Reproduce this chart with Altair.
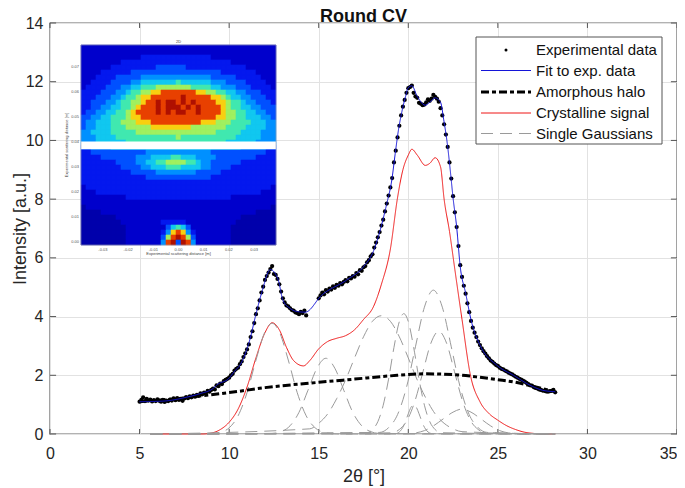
import altair as alt
import pandas as pd

exp_x = [5.0,5.1,5.2,5.3,5.4,5.5,5.6,5.7,5.8,5.9,6.0,6.1,6.2,6.3,6.4,6.5,6.6,6.7,6.8,6.9,
 7.0,7.1,7.2,7.3,7.4,7.5,7.6,7.7,7.8,7.9,8.0,8.1,8.2,8.3,8.4,8.5,8.6,8.7,8.8,8.9,
 9.0,9.1,9.2,9.3,9.4,9.5,9.6,9.7,9.8,9.9,10.0,10.1,10.2,10.3,10.4,10.5,10.6,10.7,10.8,10.9,
 11.0,11.1,11.2,11.3,11.4,11.5,11.6,11.7,11.8,11.9,12.0,12.1,12.2,12.3,12.4,12.5,12.6,12.7,12.8,12.9,
 13.0,13.1,13.2,13.3,13.4,13.5,13.6,13.7,13.8,13.9,14.0,14.1,14.2,14.3,
 15.0,15.1,15.2,15.3,15.4,15.5,15.6,15.7,15.8,15.9,16.0,16.1,16.2,16.3,16.4,16.5,16.6,16.7,16.8,16.9,
 17.0,17.1,17.2,17.3,17.4,17.5,17.6,17.7,17.8,17.9,18.0,18.1,18.2,18.3,18.4,18.5,18.6,18.7,18.8,18.9,
 19.0,19.1,19.2,19.3,19.4,19.5,19.6,19.7,19.8,19.9,20.0,20.1,20.2,20.3,20.4,20.5,20.6,20.7,20.8,20.9,
 21.0,21.1,21.2,21.3,21.4,21.5,21.6,21.7,21.8,21.9,22.0,22.1,22.2,22.3,22.4,22.5,22.6,22.7,22.8,22.9,
 23.0,23.1,23.2,23.3,23.4,23.5,23.6,23.7,23.8,23.9,24.0,24.1,24.2,24.3,24.4,24.5,24.6,24.7,24.8,24.9,
 25.0,25.1,25.2,25.3,25.4,25.5,25.6,25.7,25.8,25.9,26.0,26.1,26.2,26.3,26.4,26.5,26.6,26.7,26.8,26.9,
 27.0,27.1,27.2,27.3,27.4,27.5,27.6,27.7,27.8,27.9,28.0,28.1,28.2]
exp_y = [1.10,1.16,1.25,1.12,1.20,1.14,1.17,1.11,1.15,1.12,1.18,1.13,1.10,1.16,1.09,1.14,1.12,1.17,1.14,1.21,
 1.15,1.22,1.16,1.19,1.13,1.21,1.26,1.22,1.28,1.25,1.31,1.27,1.33,1.30,1.38,1.35,1.41,1.38,1.47,1.44,
 1.50,1.55,1.52,1.66,1.63,1.72,1.70,1.80,1.84,1.88,1.92,2.00,2.05,2.16,2.22,2.26,2.38,2.47,2.62,2.75,
 2.88,3.05,3.30,3.50,3.78,4.08,4.28,4.55,4.82,5.02,5.25,5.38,5.50,5.62,5.72,5.45,5.42,5.28,5.10,4.85,
 4.62,4.48,4.38,4.35,4.28,4.22,4.20,4.14,4.12,4.08,4.16,4.12,4.20,4.04,
 4.62,4.72,4.82,4.76,4.90,4.85,4.95,4.92,5.03,4.98,5.08,5.05,5.14,5.10,5.18,5.24,5.20,5.32,5.30,5.38,
 5.36,5.48,5.44,5.58,5.56,5.68,5.72,5.85,5.92,6.05,6.12,6.35,6.52,6.70,6.88,7.10,7.30,7.58,7.85,8.12,
 8.40,8.72,9.25,9.65,10.1,10.5,10.85,11.15,11.38,11.62,11.78,11.82,11.87,11.62,11.5,11.45,11.28,11.25,11.2,11.22,
 11.3,11.4,11.35,11.42,11.55,11.48,11.42,11.32,11.1,10.85,10.55,10.2,9.78,9.25,8.7,8.1,7.55,7.05,6.4,5.75,
 5.35,5.05,4.78,4.45,4.15,3.85,3.62,3.45,3.3,3.15,3.03,2.92,2.82,2.74,2.65,2.58,2.5,2.46,2.4,2.35,
 2.32,2.26,2.22,2.2,2.16,2.13,2.09,2.06,2.03,1.99,1.95,1.92,1.88,1.85,1.82,1.78,1.74,1.70,1.66,1.65,
 1.60,1.57,1.55,1.52,1.50,1.48,1.47,1.45,1.44,1.46,1.47,1.50,1.42]

fit_x = [5,6.3,7.6,8.4,9.1,9.33,10,10.25,10.7,11.18,11.46,11.83,12.3,12.74,13,13.4,13.8,14.25,15.17,16.57,17.5,18.07,18.5,18.8,19.08,19.27,19.45,19.65,19.85,20,20.2,20.5,20.95,21.2,21.5,21.8,21.98,22.2,22.34,22.5,22.7,22.9,23.2,23.55,24,24.95,25.87,26.8,27.5,28.2]
fit_y = [1.1,1.12,1.25,1.38,1.55,1.68,1.9,2.1,2.45,3.27,3.99,4.84,5.6,5.25,4.56,4.28,4.17,4.15,4.73,5.25,5.7,6.25,7.1,7.85,8.65,9.55,10.35,11.0,11.5,11.8,11.86,11.5,11.2,11.3,11.45,11.3,10.7,9.78,9.0,8.04,7.05,5.7,4.8,3.77,3.03,2.34,2.0,1.66,1.49,1.44]

halo_x = [5,6,7,8,9,10,12,15,17,19,21,23,24,25,26,27,28.2]
halo_y = [1.1,1.15,1.2,1.27,1.34,1.41,1.58,1.76,1.87,1.98,2.05,2.0,1.93,1.85,1.76,1.62,1.44]

red_x = [5.6,8.5,9,9.5,10,10.5,11,11.5,12,12.4,12.8,13.2,13.6,14.15,14.5,15,15.5,16,16.5,17,17.5,18.05,18.5,19,19.4,19.7,20,20.2,20.5,20.95,21.2,21.5,21.8,22,22.3,22.6,23,23.47,24,24.5,25,25.5,26,26.5,27,27.5,28.2]
red_y = [0,0,0.03,0.15,0.4,0.85,1.6,2.6,3.45,3.79,3.55,2.95,2.5,2.32,2.5,2.9,3.15,3.26,3.35,3.55,3.9,4.33,5.1,6.3,8.05,9.0,9.5,9.7,9.5,9.15,9.22,9.41,9.1,8.0,6.9,5.6,3.9,2.0,1.1,0.7,0.47,0.28,0.15,0.06,0.02,0,0]

g1_x = [5.6,9,9.5,10,10.5,11,11.5,12,12.4,12.8,13.3,13.8,14.3,14.8,15.4,16,28.2]
g1_y = [0,0.01,0.056,0.21,0.62,1.41,2.52,3.48,3.77,3.48,2.52,1.41,0.62,0.21,0.04,0,0]
g2_x = [5.6,12.4,12.9,13.4,13.9,14.4,14.9,15.4,15.9,16.4,16.9,17.4,17.9,18.4,28.2]
g2_y = [0,0.02,0.08,0.28,0.74,1.49,2.24,2.58,2.24,1.49,0.74,0.28,0.08,0.02,0]
g3_x = [5.6,14.5,15,15.5,16,16.5,17,17.5,18,18.5,19,19.5,20,20.5,21,21.5,22,22.5,23,28.2]
g3_y = [0,0.176,0.365,0.685,1.2,1.84,2.59,3.31,3.84,4.03,3.84,3.31,2.59,1.84,1.2,0.685,0.365,0.176,0.08,0]
g4_x = [5.6,17.7,18,18.3,18.6,18.9,19.2,19.5,19.75,20,20.3,20.6,20.9,21.2,21.5,21.8,28.2]
g4_y = [0,0.045,0.15,0.42,0.98,1.87,2.95,3.83,4.1,3.83,2.95,1.87,0.98,0.42,0.15,0.045,0]
g5_x = [5.6,18.4,18.9,19.4,19.9,20.4,20.9,21.4,21.9,22.4,22.9,23.4,23.9,24.4,28.2]
g5_y = [0,0.054,0.215,0.66,1.59,2.97,4.32,4.9,4.32,2.97,1.59,0.66,0.215,0.054,0]
g6_x = [5.6,19.06,19.5,19.94,20.38,20.82,21.26,21.7,22.14,22.58,23.02,23.46,23.9,24.34,28.2]
g6_y = [0,0.039,0.154,0.474,1.14,2.12,3.09,3.5,3.09,2.12,1.14,0.474,0.154,0.039,0]
g7_x = [5.6,19.25,19.5,19.75,20,20.15,20.3,20.45,20.6,20.85,21.1,21.35,28.2]
g7_y = [0,0.01,0.07,0.29,0.69,0.91,1.0,0.91,0.69,0.29,0.07,0.01,0]
g8_x = [5.6,19.85,20.4,20.9,21.4,21.95,22.5,23,23.5,24.05,24.6,25.1,25.6,26.15,28.2]
g8_y = [0,0.009,0.037,0.115,0.275,0.515,0.745,0.85,0.745,0.515,0.275,0.115,0.037,0.009,0]

series_names = ["Experimental data","Fit to exp. data","Amorphous halo","Crystalline signal","Single Gaussians"]
series_colors = ["#000000","#1414d8","#000000","#ee1515","#9a9a9a"]
series_dash = [[1,0],[1,0],[8,3,4,3],[1,0],[12,7]]
series_width = [3,1,3,1,1]

x_ticks = [0,5,10,15,20,25,30,35]
y_ticks = [0,2,4,6,8,10,12,14]

inset_rows = """
1111111111111 1111111111111 1111111111111
1111111111111 1111111111111 1111111111111
1111111111112 2222222222222 1111111111111
1111111122222 2222222222222 2222111111111
1111112222222 2233333322222 2222222111111
1111222222333 3333333333333 3322222221111
1112222333334 4444444444444 3333322222111
1122223333445 5555556555555 4443333222211
1222233344556 6677777776666 5544433322221
2222333445667 7889999999887 7665544333222
2223334456678 8999999a99999 8876554433322
2233344566778 99a9aa9a9a999 9887665443332
2233445566789 99a9aaa9a9a99 9987665544333
2334455667899 99a9a9aa99a99 9987766554433
3344556667889 9999999999999 9887766555443
3445556677788 8999999999988 8777666655544
3445556667777 7888888887777 7776666555544
4455556666677 7777777777777 7666665555444
4445555666666 6666667666666 6666655555444
4445555556666 6666666666666 6665555554444
3344445555555 5555555555555 5555554444433
2233333333333 4444444444444 3333333333322
2222333333344 4555566555444 4333333332222
2222222333344 5566777766544 3333332222222
2222222233334 4555666555544 3333222222222
2222222222333 3344444444333 3322222222222
2222222222222 3333333333333 2222222222222
2222222222222 2222222222222 2222222222222
1222222222222 2222222222222 2222222222221
1112222222222 2222222222222 2222222222111
1111111112222 2222222222222 2222111111111
1111111111111 1111111111111 1111111111111
0111111111111 1111111111111 1111111111110
0000111111111 1111111111111 1111111110000
0000000111111 1111111111111 1111110000000
0000000011111 1112222211111 1111100000000
0000000001111 1111356531111 1111000000000
0000000001111 1112489842111 1111000000000
0000000001111 111379a973111 1111000000000
0000000001111 11149a3a94111 1111000000000
""".split("\n")
level_colors = {"0":"#0000ac","1":"#0000cc","2":"#0418ee","3":"#0050ff","4":"#0090ff","5":"#10c8f0",
                "6":"#40e8b0","7":"#a0f060","8":"#f8d010","9":"#e84000","a":"#b01000"}
inset_x_dom = [-0.0387,0.0387]
inset_y_dom = [-0.001,0.0789]
inset_x_labels = [-0.03,-0.02,-0.01,0.0,0.01,0.02,0.03]
inset_y_labels = [0.0,0.01,0.02,0.03,0.04,0.05,0.06,0.07]

rows = []
def add(xs, ys, name, group):
    for a, b in zip(xs, ys):
        rows.append({"x":a,"y":b,"series":name,"group":group})
add(red_x,red_y,series_names[3],"r")
for i,(a,b) in enumerate([(g1_x,g1_y),(g2_x,g2_y),(g3_x,g3_y),(g4_x,g4_y),(g5_x,g5_y),(g6_x,g6_y),(g7_x,g7_y),(g8_x,g8_y)]):
    add(a,b,series_names[4],"g%d"%i)
add(halo_x,halo_y,series_names[2],"h")
add(fit_x,fit_y,series_names[1],"f")
lines_df = pd.DataFrame(rows)
exp_df = pd.DataFrame({"x":exp_x,"y":exp_y})

cells = []
clean = [r.replace(" ","") for r in inset_rows if r.strip()]
n_r, n_c = len(clean), len(clean[0])
dx = (inset_x_dom[1]-inset_x_dom[0])/n_c
dy = (inset_y_dom[1]-inset_y_dom[0])/n_r
for r,row in enumerate(clean):
    for c,ch in enumerate(row):
        cells.append({"x0":inset_x_dom[0]+c*dx,"x1":inset_x_dom[0]+(c+1)*dx,
                      "y1":inset_y_dom[1]-r*dy,"y0":inset_y_dom[1]-(r+1)*dy,"hex":level_colors[ch]})
cells_df = pd.DataFrame(cells)

FONT = "Liberation Sans"
W, H = 627, 411

xs = alt.Scale(domain=[0,35], nice=False)
ys = alt.Scale(domain=[0,14], nice=False)
xax = alt.Axis(values=x_ticks, title="2θ [°]", grid=True, domain=False, ticks=False,
            labelFontSize=16, labelFont=FONT, labelColor="#262626", labelPadding=11,
            labelAlign=alt.expr("datum.value==35?'right':'center'"),
            titleFont=FONT, titleFontSize=18, titleFontWeight="normal", titleColor="#262626", titlePadding=6,
            gridColor="#e2e2e2", gridWidth=1)
yax = alt.Axis(values=y_ticks, title="Intensity [a.u.]", grid=True, domain=False, ticks=False,
            labelFontSize=16, labelFont=FONT, labelColor="#262626", labelPadding=7,
            titleFont=FONT, titleFontSize=18, titleFontWeight="normal", titleColor="#262626", titlePadding=-4,
            gridColor="#e2e2e2", gridWidth=1)

tick_color = "#555555"
tx = pd.DataFrame({"t":x_ticks})
ty = pd.DataFrame({"t":y_ticks})
def tick_x(a,b):
    return alt.Chart(tx).mark_rule(color=tick_color, strokeWidth=1).encode(
        x=alt.X("t:Q",scale=xs,axis=xax), y=alt.Y(datum=a,scale=ys,axis=yax), y2=alt.Y2(datum=b))
def tick_y(a,b):
    return alt.Chart(ty).mark_rule(color=tick_color, strokeWidth=1).encode(
        y=alt.Y("t:Q",scale=ys,axis=yax), x=alt.X(datum=a,scale=xs,axis=xax), x2=alt.X2(datum=b))
t1, t2, t3, t4 = tick_x(0,0.17), tick_x(14,13.83), tick_y(0,0.34), tick_y(35,34.66)

points = alt.Chart(exp_df).mark_circle(size=18, color="#000000", opacity=1).encode(
    x=alt.X("x:Q",scale=xs,axis=xax), y=alt.Y("y:Q",scale=ys,axis=yax))

lines = alt.Chart(lines_df).mark_line(interpolate="monotone", strokeCap="butt").encode(
    x=alt.X("x:Q",scale=xs,axis=xax), y=alt.Y("y:Q",scale=ys,axis=yax), detail="group:N",
    color=alt.Color("series:N", scale=alt.Scale(domain=series_names, range=series_colors), legend=None),
    strokeDash=alt.StrokeDash("series:N", scale=alt.Scale(domain=series_names, range=series_dash), legend=None),
    strokeWidth=alt.StrokeWidth("series:N", scale=alt.Scale(type="ordinal", domain=series_names, range=series_width), legend=None),
)

leg_df = pd.DataFrame({"s":["legend"]})
leg_box = alt.Chart(leg_df).mark_rect(fill="#ffffff", stroke="#555555", strokeWidth=1).encode(
    x=alt.value(426), x2=alt.value(612), y=alt.value(14), y2=alt.value(121))
leg_layers = [leg_box]
leg_rows = [27, 47.5, 69, 90, 110.5]
leg_layers.append(alt.Chart(leg_df).mark_circle(size=9, color="#000000", opacity=1).encode(x=alt.value(456), y=alt.value(leg_rows[0])))
for name, color, dash, width, yy in zip(series_names, series_colors, series_dash, series_width, leg_rows):
    one = pd.DataFrame({"s":[name]})
    if name != series_names[0]:
        leg_layers.append(alt.Chart(one).mark_rule(color=color, strokeDash=dash, strokeWidth=width).encode(
            x=alt.value(431), x2=alt.value(481), y=alt.value(yy)))
    leg_layers.append(alt.Chart(one).mark_text(font=FONT, fontSize=15, color="#111111", align="left", baseline="middle").encode(
        x=alt.value(486), y=alt.value(yy), text="s:N"))

ix = alt.Scale(domain=inset_x_dom, range=[31,226], nice=False, zero=False)
iy = alt.Scale(domain=inset_y_dom, range=[222,22], nice=False, zero=False)
heat = alt.Chart(cells_df).mark_rect(strokeWidth=0.6).encode(
    x=alt.X("x0:Q", scale=ix, axis=None), x2="x1:Q",
    y=alt.Y("y0:Q", scale=iy, axis=None), y2="y1:Q",
    fill=alt.Fill("hex:N", scale=None), stroke=alt.Stroke("hex:N", scale=None),
)
band = alt.Chart(pd.DataFrame({"a":[inset_x_dom[0]],"b":[inset_x_dom[1]],"c":[0.0373],"d":[0.0403]})).mark_rect(color="#ffffff").encode(
    x=alt.X("a:Q",axis=None), x2="b:Q", y=alt.Y("c:Q",axis=None), y2="d:Q")
frame = alt.Chart(pd.DataFrame({"a":[inset_x_dom[0]],"b":[inset_x_dom[1]],"c":[inset_y_dom[0]],"d":[inset_y_dom[1]]})).mark_rect(
    fillOpacity=0, stroke="#9aa0b0", strokeWidth=0.6).encode(
    x=alt.X("a:Q",axis=None), x2="b:Q", y=alt.Y("c:Q",axis=None), y2="d:Q")
ixl = alt.Chart(pd.DataFrame({"v":inset_x_labels,"s":["-0.03","-0.02","-0.01","0.00","0.01","0.02","0.03"]})).mark_text(
    font=FONT, fontSize=4, color="#555555").encode(x=alt.X("v:Q",axis=None), y=alt.value(226.5), text="s:N")
iyl = alt.Chart(pd.DataFrame({"v":inset_y_labels,"s":["0.00","0.01","0.02","0.03","0.04","0.05","0.06","0.07"]})).mark_text(
    font=FONT, fontSize=4, color="#555555", align="right").encode(y=alt.Y("v:Q",axis=None), x=alt.value(29), text="s:N")
it1 = alt.Chart(pd.DataFrame({"s":["Experimental scattering distance [m]"]})).mark_text(font=FONT, fontSize=4, color="#444444").encode(
    x=alt.value(128.5), y=alt.value(230.5), text="s:N")
it2 = alt.Chart(pd.DataFrame({"s":["Experimental scattering distance [m]"]})).mark_text(font=FONT, fontSize=4, color="#444444", angle=270).encode(
    x=alt.value(17), y=alt.value(122), text="s:N")
it3 = alt.Chart(pd.DataFrame({"s":["2D"]})).mark_text(font=FONT, fontSize=4, color="#444444").encode(
    x=alt.value(128.5), y=alt.value(19), text="s:N")

main_under = alt.layer(t1, t2, t3, t4, points, lines)
inset = alt.layer(heat, band, frame, ixl, iyl, it1, it2, it3, *leg_layers)

chart = alt.layer(main_under, inset).resolve_scale(x="independent", y="independent").properties(
    width=W, height=H,
    title=alt.TitleParams("Round CV", font=FONT, fontSize=18, fontWeight="bold", color="#111111", offset=-10.5, anchor="middle"),
    autosize=alt.AutoSizeParams(type="none"),
    padding={"left":42,"top":15,"right":0,"bottom":54},
    background="#ffffff",
).configure_view(stroke="#666666", strokeWidth=1.4)

chart.save("out.html", embed_options={"renderer":"svg","actions":False})
